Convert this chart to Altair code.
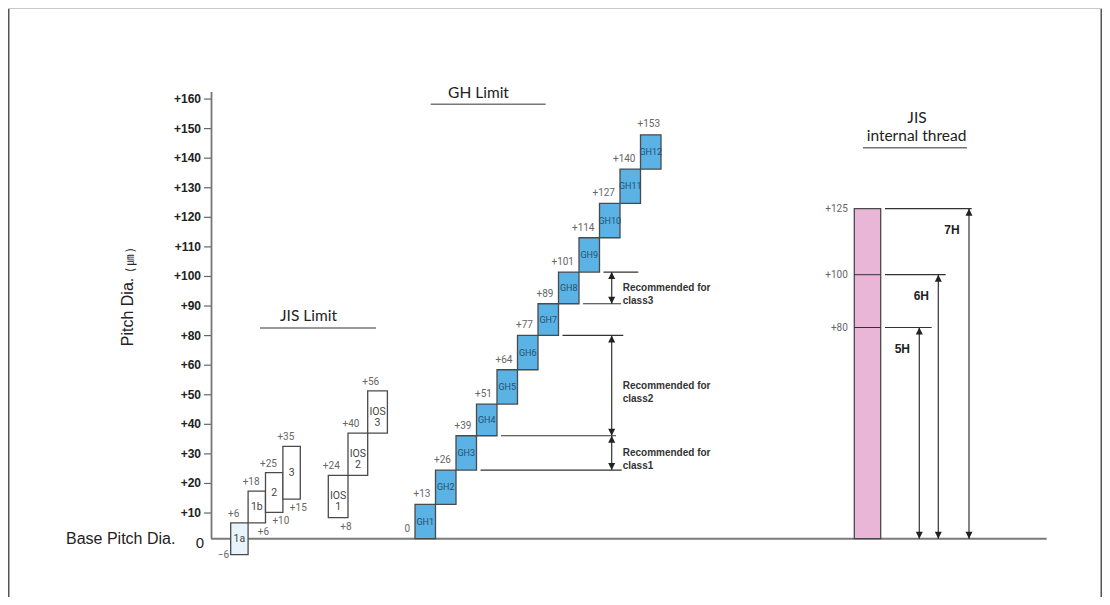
import altair as alt
import pandas as pd

# ---------------- values ----------------
jis_names = ["1a", "1b", "2", "3"]
jis_lower = [-6, 6, 10, 15]
jis_upper = [6, 18, 25, 35]

ios_names = ["IOS\n1", "IOS\n2", "IOS\n3"]
ios_lower = [8, 24, 40]
ios_upper = [24, 40, 56]

gh_names = ["GH1", "GH2", "GH3", "GH4", "GH5", "GH6", "GH7", "GH8", "GH9", "GH10", "GH11", "GH12"]
gh_lower = [0, 13, 26, 39, 51, 64, 77, 89, 101, 114, 127, 140]
gh_upper = [13, 26, 39, 51, 64, 77, 89, 101, 114, 127, 140, 153]

rec_names = ["Recommended for\nclass1", "Recommended for\nclass2", "Recommended for\nclass3"]
rec_lower = [26, 39, 89]
rec_upper = [39, 77, 101]

int_names = ["5H", "6H", "7H"]
int_upper = [80, 100, 125]

axis_labels = ["0", "+10", "+20", "+30", "+40", "+50", "+60", "+80", "+90",
               "+100", "+110", "+120", "+130", "+140", "+150", "+160"]

# ---------------- layout (reference pixel space) ----------------
W, H = 1094, 589
X_DOM = [8, 8 + W]
ZERO_Y, PX_PER_UM = 530.7, 2.64
Y_DOM = [(ZERO_Y - H) / PX_PER_UM, ZERO_Y / PX_PER_UM]
TICK0_Y, TICK_STEP = 534.6, 29.57
A_DOM = [(TICK0_Y - H) / TICK_STEP, TICK0_Y / TICK_STEP]

JIS_X0, JIS_W = 230.7, 17.4
IOS_X0, IOS_W = 328.3, 19.7
GH_X0, GH_W = 415.0, 20.5
INT_X0, INT_W = 854.3, 26.4
REC_ARROW_X, REC_TEXT_X = 611.7, 622.7
REC_LINE_END = {26: 621.7, 39: 616.0, 77: 623.3, 89: 621.0, 101: 638.3}
INT_LINE_START = 885.0
INT_LINE_END = [931.7, 945.7, 971.7]
INT_ARROW_X = [919.3, 938.3, 969.0]

NARROW = "Roboto, Liberation Sans, sans-serif"
SANS = "Liberation Sans, Arial, sans-serif"
HUM = "Lato, Open Sans, sans-serif"
UP = "M0,0L-0.5,1L0.5,1Z"
DOWN = "M0,0L-0.5,-1L0.5,-1Z"


def X(f):
    return alt.X(f"{f}:Q", scale=alt.Scale(domain=X_DOM, nice=False, zero=False), axis=None)


def Y(f):
    return alt.Y(f"{f}:Q", scale=alt.Scale(domain=Y_DOM, nice=False, zero=False), axis=None)


def A(f):
    return alt.Y(f"{f}:Q", scale=alt.Scale(domain=A_DOM, nice=False, zero=False), axis=None)


def P(f):
    return alt.Y(f"{f}:Q", scale=None)


def fmt(v):
    return "0" if v == 0 else f"{v:+d}".replace("-", "\u2212")


# ---------------- tables ----------------
box_rows = []
groups = [
    ("jis", jis_names, jis_lower, jis_upper, JIS_X0, JIS_W),
    ("ios", ios_names, ios_lower, ios_upper, IOS_X0, IOS_W),
    ("gh", gh_names, gh_lower, gh_upper, GH_X0, GH_W),
]
for grp, names, lows, ups, x0, w in groups:
    for i, (n, lo, hi) in enumerate(zip(names, lows, ups)):
        if grp == "gh":
            fill = "#5ab3e4"
        elif n == "1a":
            fill = "#e7f4fb"
        else:
            fill = "#ffffff"
        box_rows.append(dict(grp=grp, name=n, lower=lo, upper=hi, x0=x0 + i * w,
                             x1=x0 + (i + 1) * w, xc=x0 + (i + 0.5) * w,
                             ym=(lo + hi) / 2, fill=fill))
boxes = pd.DataFrame(box_rows)
boxes = pd.concat([boxes, pd.DataFrame([dict(grp="int", name="", lower=0, upper=max(int_upper),
                                              x0=INT_X0, x1=INT_X0 + INT_W, xc=INT_X0 + INT_W / 2,
                                              ym=max(int_upper) / 2, fill="#e9b6d8")])],
                  ignore_index=True)

# value labels
above, below, left, ghleft, top = [], [], [], [], []
for _, r in boxes[boxes.grp.isin(["jis", "ios"])].iterrows():
    above.append(dict(t=fmt(r.upper), x=r.x0 + 3, v=r.upper))
for n in ["1b", "2", "3", "IOS\n1"]:
    r = boxes[boxes.name == n].iloc[0]
    below.append(dict(t=fmt(r.lower), x=r.x1 - 2, v=r.lower))
r = boxes[boxes.name == "1a"].iloc[0]
left.append(dict(t=fmt(r.lower), x=r.x0 - 1.5, v=r.lower))
for _, r in boxes[boxes.grp == "gh"].iterrows():
    ghleft.append(dict(t=fmt(r.lower), x=r.x0 - 5, v=r.lower))
r = boxes[boxes.grp == "gh"].iloc[-1]
top.append(dict(t=fmt(r.upper), x=r.xc - 2, v=r.upper))

# recommended lines
rec_lines = []
for lv in sorted(set(rec_lower + rec_upper)):
    j = gh_lower.index(lv)
    rec_lines.append(dict(v=lv, x0=GH_X0 + (j + 1) * GH_W + 4, x1=REC_LINE_END[lv]))
rec_lines = pd.DataFrame(rec_lines)
rec = pd.DataFrame(dict(name=rec_names, lower=rec_lower, upper=rec_upper,
                        mid=[(a + b) / 2 for a, b in zip(rec_lower, rec_upper)],
                        x=REC_ARROW_X, tx=REC_TEXT_X))

intr = pd.DataFrame(dict(name=int_names, upper=int_upper, zero=0,
                         lab=[fmt(v) for v in int_upper],
                         x0=INT_LINE_START, x1=INT_LINE_END, ax=INT_ARROW_X,
                         tx=[a - 17 for a in INT_ARROW_X],
                         bx0=INT_X0, bx1=INT_X0 + INT_W, lx=INT_X0 - 6.5))

ticks = pd.DataFrame(dict(idx=list(range(len(axis_labels))), label=axis_labels))

layers = []

# frame
layers.append(alt.Chart(pd.DataFrame({"a": [0]})).mark_rule(color="#555", strokeWidth=1.5)
              .encode(x=alt.value(0.75), y=alt.value(0), y2=alt.value(H)))
layers.append(alt.Chart(pd.DataFrame({"a": [0]})).mark_rule(color="#555", strokeWidth=1.5)
              .encode(x=alt.value(W - 0.75), y=alt.value(0), y2=alt.value(H)))
layers.append(alt.Chart(pd.DataFrame({"a": [0]})).mark_rule(color="#c8c8c8", strokeWidth=1)
              .encode(x=alt.value(0), x2=alt.value(W), y=alt.value(0.5)))

# axis line and baseline
layers.append(alt.Chart(pd.DataFrame({"x": [211.5], "v": [0]})).mark_rule(color="#777", strokeWidth=1.8)
              .encode(x=X("x"), y=Y("v"), y2=alt.value(84)))
layers.append(alt.Chart(pd.DataFrame({"x0": [211], "x1": [1046.7], "v": [0]}))
              .mark_rule(color="#7a7a7a", strokeWidth=2)
              .encode(x=X("x0"), x2="x1", y=Y("v")))

# ticks + labels
layers.append(alt.Chart(ticks[ticks.idx > 0]).mark_rule(color="#666", strokeWidth=1.2)
              .encode(x=alt.value(196), x2=alt.value(203), y=A("idx")))
layers.append(alt.Chart(ticks[ticks.idx > 0]).mark_text(align="right", baseline="middle", font=SANS,
                                                       fontSize=12, fontWeight="bold", color="#222")
              .encode(x=alt.value(193), y=A("idx"), text="label:N"))
layers.append(alt.Chart(ticks[ticks.idx == 0]).mark_text(align="center", baseline="middle", font=SANS,
                                                        fontSize=15, color="#222")
              .encode(x=alt.value(192), y=A("idx"), text="label:N"))

# side titles
layers.append(alt.Chart(pd.DataFrame({"t": ["Base Pitch Dia."], "x": [66], "v": [0]}))
              .mark_text(align="left", baseline="middle", font=SANS, fontSize=16, color="#222")
              .encode(x=X("x"), y=Y("v"), text="t:N"))
layers.append(alt.Chart(pd.DataFrame({"t": ["Pitch Dia."], "x": [128], "py": [304]}))
              .mark_text(align="center", baseline="middle", angle=270, font=SANS, fontSize=16, color="#222")
              .encode(x=X("x"), y=P("py"), text="t:N"))
layers.append(alt.Chart(pd.DataFrame({"t": ["( \u339b )"], "x": [131], "py": [252]}))
              .mark_text(align="center", baseline="middle", angle=270, font="Noto Sans CJK JP",
                         fontSize=11, color="#222")
              .encode(x=X("x"), y=P("py"), text="t:N"))

# headings
heads = pd.DataFrame(dict(t=["JIS Limit", "GH Limit", "JIS", "internal thread"],
                          x=[308.5, 478.5, 917, 916.5], py=[308, 85, 109.5, 128]))
layers.append(alt.Chart(heads).mark_text(align="center", baseline="middle", font=HUM, fontSize=15.5, color="#222")
              .encode(x=X("x"), y=P("py"), text="t:N"))
unders = pd.DataFrame(dict(x0=[260, 430.7, 863], x1=[376, 545.7, 967], py=[320, 96.3, 139.7]))
layers.append(alt.Chart(unders).mark_rule(color="#777", strokeWidth=1.5)
              .encode(x=X("x0"), x2="x1", y=P("py")))

# boxes
layers.append(alt.Chart(boxes).mark_rect(stroke="#4a4a4a", strokeWidth=1.3)
              .encode(x=X("x0"), x2="x1", y=Y("lower"), y2="upper", color=alt.Color("fill:N", scale=None)))

# pink inner lines
layers.append(alt.Chart(intr[intr.upper < max(int_upper)]).mark_rule(color="#333", strokeWidth=1)
              .encode(x=X("bx0"), x2="bx1", y=Y("upper")))

# box labels
layers.append(alt.Chart(boxes[boxes.grp.isin(["jis", "ios"])])
              .mark_text(align="center", baseline="middle", font=NARROW, fontSize=10.5, color="#444",
                         lineBreak="\n", lineHeight=11)
              .encode(x=X("xc"), y=Y("ym"), text="name:N"))
layers.append(alt.Chart(boxes[boxes.grp == "gh"])
              .mark_text(align="center", baseline="middle", font=NARROW, fontSize=9, color="#27506f")
              .encode(x=X("xc"), y=Y("ym"), text="name:N"))

# value labels
vstyle = dict(font=NARROW, fontSize=10, color="#666")
layers.append(alt.Chart(pd.DataFrame(above)).mark_text(align="center", baseline="middle", dy=-9, **vstyle)
              .encode(x=X("x"), y=Y("v"), text="t:N"))
layers.append(alt.Chart(pd.DataFrame(below)).mark_text(align="center", baseline="middle", dy=9, **vstyle)
              .encode(x=X("x"), y=Y("v"), text="t:N"))
layers.append(alt.Chart(pd.DataFrame(left)).mark_text(align="right", baseline="middle", **vstyle)
              .encode(x=X("x"), y=Y("v"), text="t:N"))
layers.append(alt.Chart(pd.DataFrame(ghleft)).mark_text(align="right", baseline="middle", dy=-10, **vstyle)
              .encode(x=X("x"), y=Y("v"), text="t:N"))
layers.append(alt.Chart(pd.DataFrame(top)).mark_text(align="center", baseline="middle", dy=-11, **vstyle)
              .encode(x=X("x"), y=Y("v"), text="t:N"))

# recommended ranges
layers.append(alt.Chart(rec_lines).mark_rule(color="#333", strokeWidth=1.2)
              .encode(x=X("x0"), x2="x1", y=Y("v")))
layers.append(alt.Chart(rec).mark_rule(color="#333", strokeWidth=1.2)
              .encode(x=X("x"), y=Y("lower"), y2="upper"))
layers.append(alt.Chart(rec).mark_point(shape=UP, filled=True, size=196, color="#222", opacity=1, strokeWidth=0)
              .encode(x=X("x"), y=Y("upper")))
layers.append(alt.Chart(rec).mark_point(shape=DOWN, filled=True, size=196, color="#222", opacity=1, strokeWidth=0)
              .encode(x=X("x"), y=Y("lower")))
layers.append(alt.Chart(rec).mark_text(align="left", baseline="middle", font=SANS, fontSize=10,
                                       fontWeight="bold", color="#333", lineBreak="\n", lineHeight=13.5)
              .encode(x=X("tx"), y=Y("mid"), text="name:N"))

# internal thread
layers.append(alt.Chart(intr).mark_text(align="right", baseline="middle", **vstyle)
              .encode(x=X("lx"), y=Y("upper"), text="lab:N"))
layers.append(alt.Chart(intr).mark_rule(color="#333", strokeWidth=1.2)
              .encode(x=X("x0"), x2="x1", y=Y("upper")))
layers.append(alt.Chart(intr).mark_rule(color="#333", strokeWidth=1.2)
              .encode(x=X("ax"), y=Y("zero"), y2="upper"))
layers.append(alt.Chart(intr).mark_point(shape=UP, filled=True, size=196, color="#222", opacity=1, strokeWidth=0)
              .encode(x=X("ax"), y=Y("upper")))
layers.append(alt.Chart(intr).mark_point(shape=DOWN, filled=True, size=196, color="#222", opacity=1, strokeWidth=0)
              .encode(x=X("ax"), y=Y("zero")))
layers.append(alt.Chart(intr).mark_text(align="center", baseline="middle", dy=21, font=SANS, fontSize=12,
                                        fontWeight="bold", color="#222")
              .encode(x=X("tx"), y=Y("upper"), text="name:N"))

chart = alt.layer(*layers).resolve_scale(y="independent").properties(
    width=W, height=H, padding=0, background="white",
    autosize=alt.AutoSizeParams(type="none"),
).configure_view(strokeWidth=0)

chart.save("out.html", embed_options={"renderer": "svg", "actions": False})
